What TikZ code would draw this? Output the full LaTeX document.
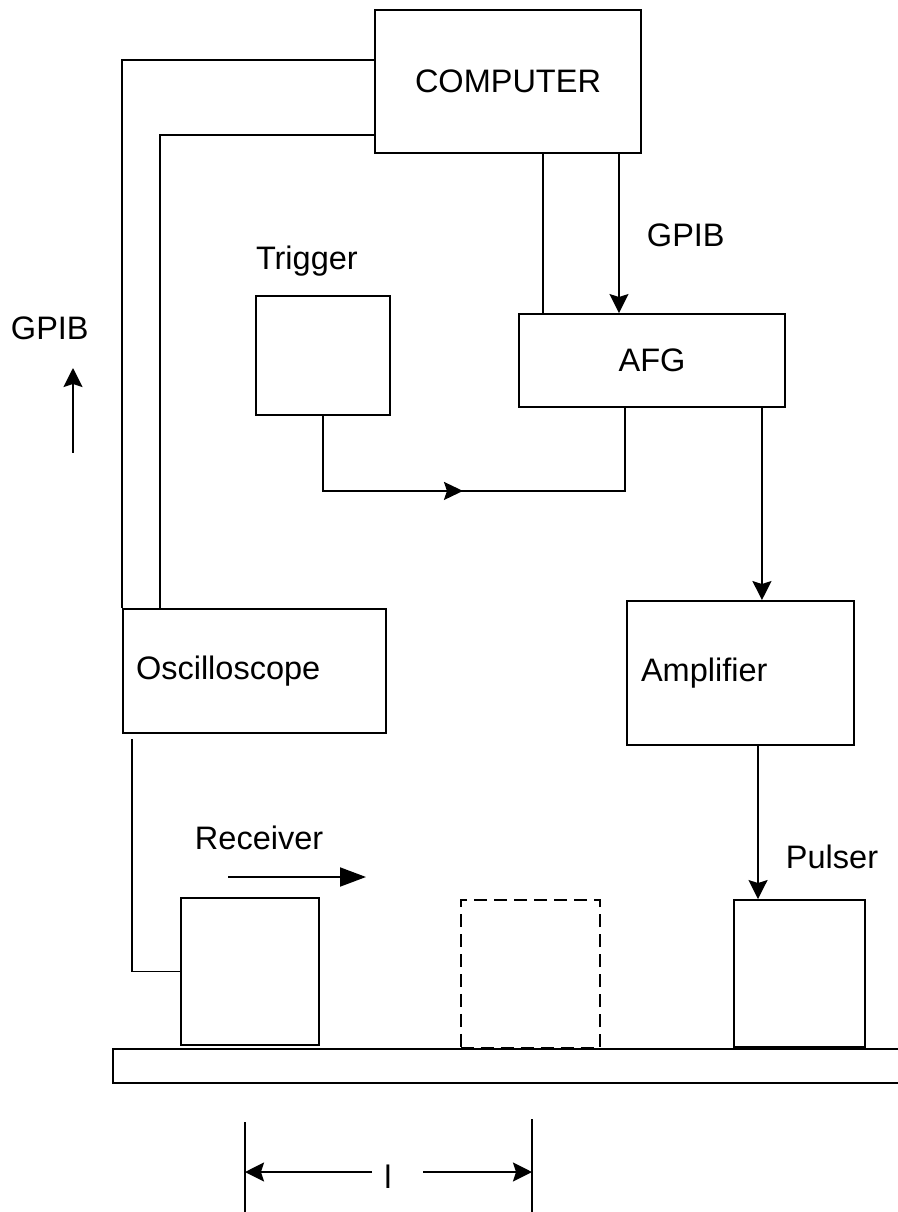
\documentclass[tikz,border=0pt]{standalone}
\usepackage{fontspec}
\setmainfont{Liberation Sans}
\usetikzlibrary{positioning, arrows.meta, decorations.markings}

\begin{document}
\begin{tikzpicture}[
    x=0.02cm, y=-0.02cm,
    line width=1.1pt,
    box/.style={draw, rectangle, inner sep=0pt, align=center, font=\fontsize{18.5}{22}\selectfont},
    lbl/.style={inner sep=0pt, font=\fontsize{18.5}{22}\selectfont},
    dashbox/.style={draw, rectangle, inner sep=0pt, dash pattern=on 0.26cm off 0.14cm},
    arrow/.style={-{Stealth[length=0.38cm, width=0.38cm, inset=0.06cm]}},
    bigarrow/.style={-{Triangle[length=0.52cm, width=0.38cm]}},
    midarrow/.style={postaction={decorate}, decoration={markings, mark=at position #1 with {\arrow{Stealth[length=0.38cm, width=0.36cm, inset=0.06cm]}}}}
]
\useasboundingbox (0,0) rectangle (897,1212);

% Nodes
\node[box, minimum width=5.32cm, minimum height=2.86cm] (computer) at (508,81.5) {COMPUTER};
\node[box, minimum width=5.32cm, minimum height=1.86cm] (afg) at (652,360.5) {AFG};
\node[box, minimum width=2.68cm, minimum height=2.38cm] (trigger) at (323,355.5) {};
\node[box, minimum width=5.26cm, minimum height=2.48cm, text width=4.74cm, inner xsep=0.26cm, align=left] (osc) at (254.5,671) {Oscilloscope};
\node[box, minimum width=4.54cm, minimum height=2.88cm, text width=3.98cm, inner xsep=0.28cm, align=left] (amp) at (740.5,673) {Amplifier};
\node[box, minimum width=2.76cm, minimum height=2.94cm] (receiver) at (250,971.5) {};
\node[dashbox, minimum width=2.78cm, minimum height=2.96cm] (ghost) at (530.5,974) {};
\node[box, minimum width=2.62cm, minimum height=2.94cm] (pulser) at (799.5,973.5) {};
\node[box, minimum width=15.84cm, minimum height=0.68cm] (rail) at (509,1066) {};

% Labels
\node[lbl, anchor=base west] (trigtxt) at ([yshift=0.52cm]trigger.north west) {Trigger};
\node[lbl, anchor=base west] (gpibA) at (646,247) {GPIB};
\node[lbl, anchor=base west] (gpibB) at (10,340) {GPIB};
\node[lbl, anchor=base west] (rectxt) at (194,849) {Receiver};
\node[lbl, anchor=base west] (pultxt) at (785,868) {Pulser};
\node[lbl, anchor=base] (len) at (388,1188) {l};

\coordinate (gpibLow) at (73,453);
\coordinate (gpibTip) at (73,368);
\coordinate (moveA) at (228,877);
\coordinate (moveB) at (366,877);
\coordinate (dimL) at (245,1172);
\coordinate (dimR) at (532,1172);
\coordinate (gapL) at (372,1172);
\coordinate (gapR) at (423,1172);

% Edges
\draw ([yshift=0.43cm]computer.west) -| (osc.north west);
\draw ([yshift=-1.07cm]computer.west) -| ([xshift=0.76cm]osc.north west);
\draw ([xshift=0.7cm]computer.south) -- ([xshift=0.7cm]computer.south |- afg.north);
\draw[arrow] ([xshift=2.22cm]computer.south) -- ([xshift=2.22cm]computer.south |- afg.north);
\draw[midarrow=4.3cm] (trigger.south) |- ([xshift=-0.54cm, yshift=-1.66cm]afg.south) -- ([xshift=-0.54cm]afg.south);
\draw[arrow] ([xshift=-0.48cm]afg.south east) -- ([xshift=-0.48cm]afg.south east |- amp.north);
\draw[arrow] ([xshift=-0.83cm]pulser.north |- amp.south) -- ([xshift=-0.83cm]pulser.north);
\draw ([xshift=0.2cm, yshift=-0.1cm]osc.south west) |- (receiver.west);
\draw[arrow] (gpibLow) -- (gpibTip);
\draw[bigarrow] (moveA) -- (moveB);

% Length
\draw ([yshift=1cm]dimL) -- ([yshift=-0.9cm]dimL);
\draw ([yshift=1.06cm]dimR) -- ([yshift=-0.9cm]dimR);
\draw[arrow] (gapL) -- (dimL);
\draw[arrow] (gapR) -- (dimR);

\end{tikzpicture}
\end{document}
